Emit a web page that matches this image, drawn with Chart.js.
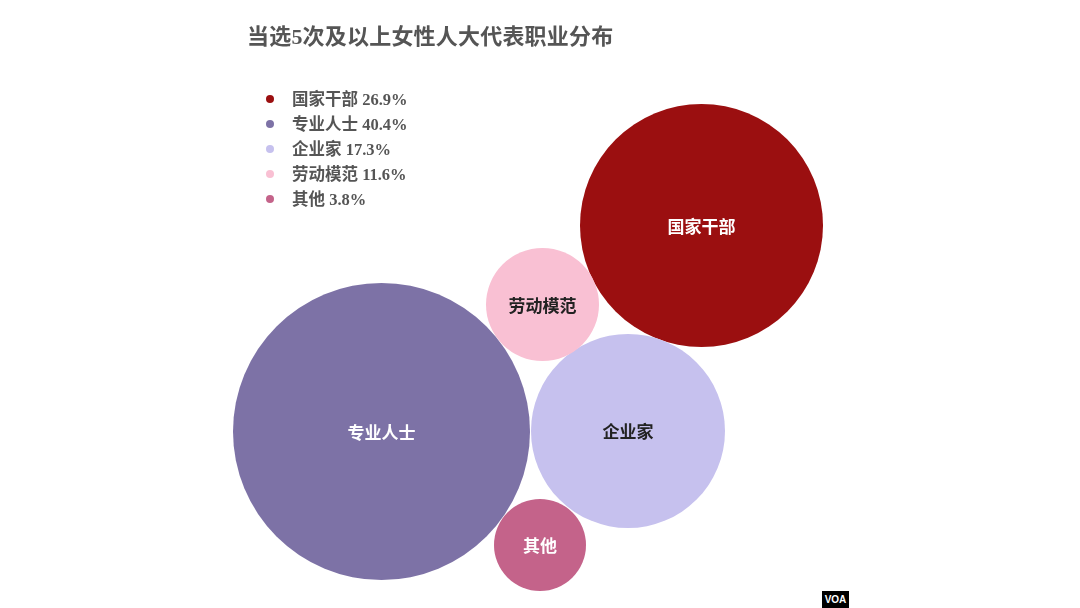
<!DOCTYPE html>
<html>
<head>
<meta charset="utf-8">
<script src="https://cdn.jsdelivr.net/npm/chart.js@4.4.1/dist/chart.umd.min.js"></script>
<style>
  html, body { margin: 0; padding: 0; background: #fff; }
  #wrap { position: relative; width: 1080px; height: 608px; overflow: hidden; }
  #c { position: absolute; left: 0; top: 0; }
  #title { position: absolute; left: 247px; top: 18px; font-family: "Liberation Serif", "Noto Sans CJK SC", serif; font-weight: 700; font-size: 22px; color: #555; letter-spacing: 0.2px; white-space: nowrap; }
  #legend { position: absolute; left: 263px; top: 87px; font-family: "Liberation Serif", "Noto Sans CJK SC", serif; font-weight: 700; font-size: 16.5px; color: #555; }
  .row { height: 25px; line-height: 25px; white-space: nowrap; position: relative; padding-left: 29px; }
  .dot { position: absolute; left: 3px; top: 8px; width: 8px; height: 8px; border-radius: 50%; }
  #voa { position: absolute; left: 822px; top: 591px; width: 27px; height: 17px; background: #000; color: #fff; font-family: "Liberation Sans", Arial, sans-serif; font-weight: 700; font-size: 10px; line-height: 17px; text-align: center; }
</style>
</head>
<body>
<div id="wrap">
  <canvas id="c" width="1080" height="608"></canvas>
  <div id="title">当选5次及以上女性人大代表职业分布</div>
  <div id="legend"></div>
  <div id="voa">VOA</div>
</div>
<script>
// ---- data ----
const categories = ['国家干部', '专业人士', '企业家', '劳动模范', '其他'];
const shares = [26.9, 40.4, 17.3, 11.6, 3.8];
const bubbleX = [701.5, 381.5, 628, 542.5, 540];
const bubbleY = [225.5, 431.5, 431, 304.5, 545];
const bubbleSize = [121.5, 148.5, 97, 56.5, 46];

// ---- styles ----
const fillColors = ['#9b0f10', '#7d72a6', '#c6c1ee', '#f9c0d3', '#c4638a'];
const labelColors = ['#ffffff', '#ffffff', '#222222', '#222222', '#ffffff'];

// legend (HTML, built from arrays)
const legend = document.getElementById('legend');
categories.forEach((c, i) => {
  const row = document.createElement('div');
  row.className = 'row';
  const d = document.createElement('span');
  d.className = 'dot';
  d.style.background = fillColors[i];
  row.appendChild(d);
  row.appendChild(document.createTextNode(c + ' ' + shares[i].toFixed(1) + '%'));
  legend.appendChild(row);
});

// bubble controller without the automatic radius padding, so the plot area is the full canvas
class PackedBubbleController extends Chart.BubbleController {
  getMaxOverflow() { return 0; }
}
PackedBubbleController.id = 'packedBubble';
PackedBubbleController.defaults = Chart.BubbleController.defaults;
PackedBubbleController.overrides = Chart.BubbleController.overrides;
Chart.register(PackedBubbleController);

const bubbleLabels = {
  id: 'bubbleLabels',
  afterDatasetsDraw(chart) {
    const ctx = chart.ctx;
    const meta = chart.getDatasetMeta(0);
    ctx.save();
    ctx.font = '700 17px "Noto Sans CJK SC", sans-serif';
    ctx.textAlign = 'center';
    ctx.textBaseline = 'middle';
    meta.data.forEach((el, i) => {
      ctx.fillStyle = labelColors[i];
      ctx.fillText(categories[i], el.x, el.y + 1);
    });
    ctx.restore();
  }
};

const W = 1080, H = 608;

new Chart(document.getElementById('c'), {
  type: 'packedBubble',
  data: {
    labels: categories,
    datasets: [{
      label: '职业分布',
      data: categories.map((c, i) => ({ x: bubbleX[i], y: bubbleY[i], r: bubbleSize[i] })),
      backgroundColor: fillColors,
      borderWidth: 0,
      hoverRadius: 0,
      clip: false
    }]
  },
  options: {
    responsive: false,
    devicePixelRatio: 1,
    animation: false,
    events: [],
    layout: { padding: 0 },
    scales: {
      x: { type: 'linear', min: 0, max: W, display: false },
      y: { type: 'linear', min: 0, max: H, reverse: true, display: false }
    },
    plugins: {
      legend: { display: false },
      title: { display: false },
      tooltip: { enabled: false }
    }
  },
  plugins: [bubbleLabels]
});
</script>
</body>
</html>
